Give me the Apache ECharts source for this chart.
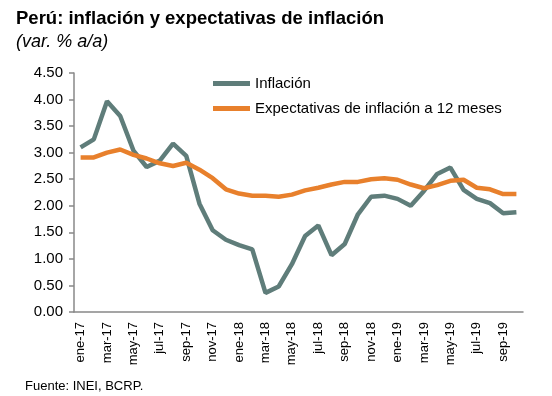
<!DOCTYPE html>
<html><head><meta charset="utf-8">
<script src="https://cdn.jsdelivr.net/npm/echarts@6/dist/echarts.min.js"></script>
<style>html,body{margin:0;padding:0;background:#fff}#c{width:552px;height:396px}</style>
</head><body><div id="c"></div>
<script>
var categories = ["ene-17","feb-17","mar-17","abr-17","may-17","jun-17","jul-17","ago-17","sep-17","oct-17","nov-17","dic-17",
"ene-18","feb-18","mar-18","abr-18","may-18","jun-18","jul-18","ago-18","sep-18","oct-18","nov-18","dic-18",
"ene-19","feb-19","mar-19","abr-19","may-19","jun-19","jul-19","ago-19","sep-19","oct-19"];
var inflacion = [3.10,3.25,3.97,3.69,3.04,2.73,2.85,3.17,2.94,2.04,1.54,1.36,
1.26,1.18,0.36,0.48,0.90,1.43,1.63,1.07,1.28,1.84,2.17,2.19,
2.13,2.00,2.28,2.60,2.72,2.30,2.13,2.05,1.86,1.88];
var expectativas = [2.91,2.91,3.00,3.06,2.96,2.89,2.80,2.75,2.81,2.68,2.52,2.31,
2.23,2.19,2.19,2.17,2.21,2.29,2.34,2.40,2.45,2.45,2.50,2.52,
2.49,2.40,2.33,2.39,2.47,2.49,2.34,2.31,2.22,2.22];
var seriesNames = ["Inflación","Expectativas de inflación a 12 meses"];
var yTicks = {min:0, max:4.5, interval:0.5};

var chart = echarts.init(document.getElementById('c'), null, {renderer:'canvas'});
var font = 'Liberation Sans, Arial, sans-serif';
chart.setOption({
  animation:false,
  backgroundColor:'#fff',
  title:[
    {text:'Perú: inflación y expectativas de inflación', left:11, top:4,
     textStyle:{fontFamily:font, fontSize:18.5, fontWeight:'bold', color:'#000'}},
    {text:'(var. % a/a)', left:11, top:28,
     textStyle:{fontFamily:font, fontSize:18, fontWeight:'normal', fontStyle:'italic', color:'#000'}},
    {text:'Fuente: INEI, BCRP.', left:20, top:375,
     textStyle:{fontFamily:font, fontSize:13, fontWeight:'normal', color:'#000'}}
  ],
  legend:{
    orient:'vertical', left:208, top:71, itemWidth:37, itemHeight:5, itemGap:10,
    icon:'rect',
    textStyle:{fontFamily:font, fontSize:15, color:'#000'},
    data:seriesNames
  },
  grid:{left:74, right:29, top:73, bottom:84, containLabel:false},
  xAxis:{
    type:'category', data:categories, boundaryGap:true,
    axisLine:{lineStyle:{color:'#888', width:1.5}},
    axisTick:{alignWithLabel:false, interval:1, length:5, lineStyle:{color:'#888', width:1.5}},
    axisLabel:{interval:1, rotate:90, fontFamily:font, fontSize:13, color:'#000', margin:10}
  },
  yAxis:{
    type:'value', min:yTicks.min, max:yTicks.max, interval:yTicks.interval,
    splitLine:{show:false},
    axisLine:{show:true, lineStyle:{color:'#888', width:1.5}},
    axisTick:{show:true, length:5, lineStyle:{color:'#888', width:1.5}},
    axisLabel:{fontFamily:font, fontSize:15, color:'#000', margin:11,
      formatter:function(v){return v.toFixed(2);}}
  },
  series:[
    {name:seriesNames[0], type:'line', data:inflacion, symbol:'none', smooth:false,
     lineStyle:{color:'#5f7d7a', width:4.5}, itemStyle:{color:'#5f7d7a'}, z:2},
    {name:seriesNames[1], type:'line', data:expectativas, symbol:'none', smooth:false,
     lineStyle:{color:'#e8802c', width:4.5}, itemStyle:{color:'#e8802c'}, z:3}
  ]
});
</script></body></html>
